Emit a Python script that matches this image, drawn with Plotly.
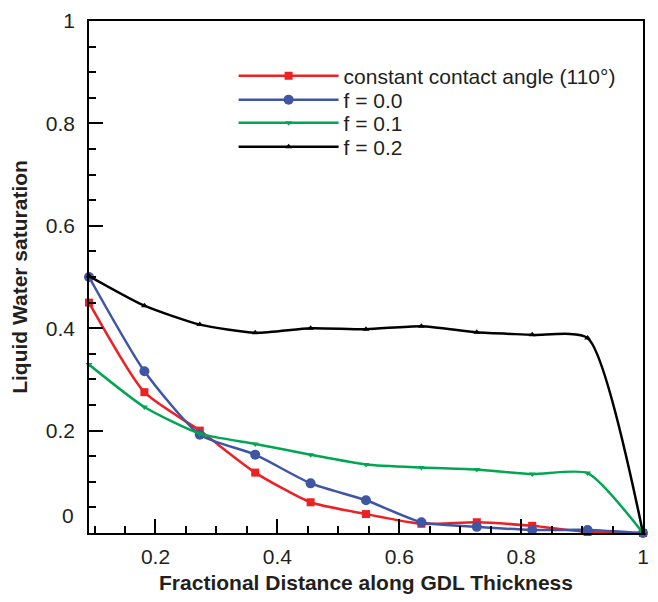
import plotly.graph_objects as go

x_frac = [1/11, 2/11, 3/11, 4/11, 5/11, 6/11, 7/11, 8/11, 9/11, 10/11, 1.0]

s_const = [0.45, 0.275, 0.200, 0.118, 0.060, 0.037, 0.018, 0.021, 0.014, 0.002, 0.0]
s_f00 = [0.50, 0.316, 0.192, 0.153, 0.097, 0.064, 0.021, 0.012, 0.006, 0.006, 0.0]
s_f01 = [0.329, 0.246, 0.194, 0.174, 0.153, 0.134, 0.128, 0.124, 0.115, 0.117, 0.0]
s_f02 = [0.502, 0.444, 0.407, 0.391, 0.400, 0.398, 0.404, 0.392, 0.387, 0.381, 0.0]

names = ["constant contact angle (110°)", "f = 0.0", "f = 0.1", "f = 0.2"]
series = [s_const, s_f00, s_f01, s_f02]
colors = ["#ED2024", "#3F55A6", "#00A651", "#000000"]
symbols = ["square", "circle", "triangle-down", "triangle-up"]
sizes = [8, 10, 6, 6]
legend_ids = ["legend", "legend2", "legend3", "legend4"]
legend_y = [0.8926, 0.8457, 0.8008, 0.7539]

x_ticks = [0.2, 0.4, 0.6, 0.8, 1.0]
x_ticklabels = ["0.2", "0.4", "0.6", "0.8", "1"]
y_ticks = [0, 0.2, 0.4, 0.6, 0.8, 1.0]
y_ticklabels = ["", "0.2", "0.4", "0.6", "0.8", "1"]

fig = go.Figure()
for n, s, c, sym, sz, lg in zip(names, series, colors, symbols, sizes, legend_ids):
    fig.add_trace(go.Scatter(
        x=x_frac, y=s, name=n, mode="lines+markers",
        line=dict(color=c, width=2.5, shape="spline", smoothing=0.6),
        marker=dict(color=c, symbol=sym, size=sz),
        cliponaxis=False, legend=lg,
    ))

font_family = "Liberation Sans, Arial, sans-serif"
tick_color = "#231F20"
FS = 21

legend_common = dict(
    x=0.261, xanchor="left", yanchor="middle",
    bgcolor="rgba(0,0,0,0)", borderwidth=0,
    font=dict(size=FS, color=tick_color, family=font_family),
    itemwidth=100,
)
legends = {}
for lg, ly in zip(legend_ids, legend_y):
    legends[lg] = dict(legend_common, y=ly)

# page body has an 8px margin; keep the figure inside the window
fig.update_layout(
    width=642, height=586,
    margin=dict(l=81, r=7, t=13, b=61),
    paper_bgcolor="white", plot_bgcolor="white",
    font=dict(family=font_family, size=FS, color=tick_color),
    showlegend=True,
    **legends,
    xaxis=dict(
        range=[1/11, 1.0], automargin=False,
        tickmode="array", tickvals=x_ticks, ticktext=x_ticklabels,
        ticks="inside", ticklen=14, tickwidth=1.5, tickcolor="black",
        minor=dict(dtick=0.05, ticks="inside", ticklen=7, tickwidth=1.5, tickcolor="black"),
        showline=True, linecolor="black", linewidth=1.5, mirror=True,
        showgrid=False, zeroline=False, ticklabelstandoff=4, ticklabeloverflow="allow",
        title=dict(text="<b>Fractional Distance along GDL Thickness</b>", font=dict(size=FS, color=tick_color), standoff=12),
        tickfont=dict(size=FS, color=tick_color),
    ),
    yaxis=dict(
        range=[0, 1.0], automargin=False,
        tickmode="array", tickvals=y_ticks, ticktext=y_ticklabels,
        ticks="inside", ticklen=14, tickwidth=1.5, tickcolor="black",
        minor=dict(dtick=0.05, ticks="inside", ticklen=7, tickwidth=1.5, tickcolor="black"),
        showline=True, linecolor="black", linewidth=1.5, mirror=True,
        showgrid=False, zeroline=False, ticklabelstandoff=8, ticklabeloverflow="allow",
        title=dict(text="<b>Liquid Water saturation</b>", font=dict(size=FS, color=tick_color), standoff=14),
        tickfont=dict(size=FS, color=tick_color),
    ),
    annotations=[dict(
        x=0, y=0, xref="paper", yref="y", text="0", showarrow=False,
        xanchor="right", yanchor="middle", xshift=-13, yshift=18,
        font=dict(size=FS, color=tick_color, family=font_family),
    )],
)

fig.write_html("out.html")
